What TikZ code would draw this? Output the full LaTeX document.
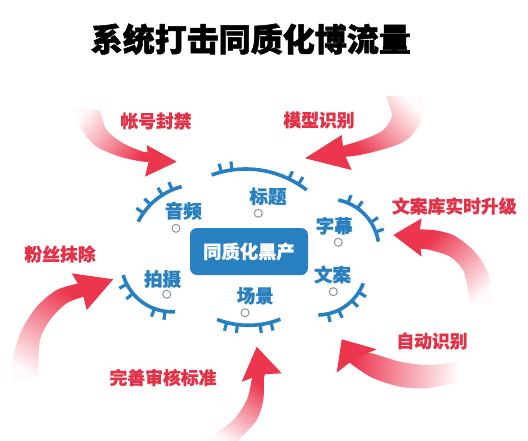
\documentclass[tikz,border=0pt]{standalone}
\usepackage{fontspec}
\newfontfamily\cjk{Noto Sans CJK SC}
\newfontfamily\cjkheavy{Noto Sans CJK SC}[BoldFeatures={FakeBold=1.6}]
\newfontfamily\cjkmed{Noto Sans CJK SC}[BoldFeatures={FakeBold=0.6}]
\definecolor{ared}{RGB}{236,54,78}
\definecolor{lred}{RGB}{226,50,72}
\definecolor{eblue}{RGB}{40,128,192}
\definecolor{cgray}{RGB}{130,140,150}
\tikzset{
  titletext/.style={font=\cjkheavy\bfseries\fontsize{32}{36}\selectfont, text=black, inner sep=0pt},
  redlbl/.style={font=\cjkmed\bfseries\fontsize{17.8}{20}\selectfont, text=lred, inner sep=0pt},
  bluelbl/.style={font=\cjkmed\bfseries\fontsize{18.5}{20}\selectfont, text=eblue, inner sep=0pt},
  eyeline/.style={draw=eblue, line width=3.6pt},
  lash/.style={draw=eblue, line width=3.2pt},
  dotmark/.style={circle, draw=cgray, fill=white, line width=0.9pt, minimum size=8pt, inner sep=0pt},
  corebox/.style={rounded corners=7pt, fill=eblue, minimum width=118pt, minimum height=47pt,
    font=\cjkmed\bfseries\fontsize{18.3}{20}\selectfont, text=white, inner sep=0pt},
  fadearrow/.style={top color=ared, bottom color=ared!3, middle color=ared!50, shading angle=#1}
}
\newcommand\eyearc[5]{%
  \draw[eyeline] plot[domain=#4:#5, samples=40, variable=\t] ({#1+#3*cos(\t)},{#2+#3*sin(\t)});
  \foreach \s in {10,21}{%
    \pgfmathsetmacro\ta{#4+\s/#3*57.2958}%
    \pgfmathsetmacro\tb{#5-\s/#3*57.2958}%
    \draw[lash] ({#1+(#3+1)*cos(\ta)},{#2+(#3+1)*sin(\ta)}) -- ({#1+(#3+8.5)*cos(\ta)},{#2+(#3+8.5)*sin(\ta)});
    \draw[lash] ({#1+(#3+1)*cos(\tb)},{#2+(#3+1)*sin(\tb)}) -- ({#1+(#3+8.5)*cos(\tb)},{#2+(#3+8.5)*sin(\tb)});
  }%
}
\begin{document}
\begin{tikzpicture}[x=1pt,y=-1pt]
\useasboundingbox[fill=white] (0,0) rectangle (528,440);

% title
\node[titletext] (title) at (250.8,39.2) {系统打击同质化博流量};

% arrows
% 1 top-left
\shade[fadearrow=-127.4] plot[smooth] coordinates {(71.7,106.7) (81.7,130) (96.7,146.7) (120,156.7) (143.3,161.7) (153,161)}
  -- plot[smooth] coordinates {(153,152) (143.3,151.7) (123.3,143.3) (106.7,130) (100,110)} -- cycle;
\fill[ared] (146.7,145) -- (176.7,161.7) -- (145,176.7) -- (148.8,160.9) -- cycle;
% 2 top-right
\shade[fadearrow=134.6] plot[smooth] coordinates {(386,96) (390,108) (391.7,117) (383.3,130) (366.7,138.3) (343,146)}
  -- plot[smooth] coordinates {(343,157) (360,155) (386.7,148.3) (406.7,140) (420,123.3) (423.3,103.3) (423,96)} -- cycle;
\fill[ared] (341.7,135) -- (305,158.3) -- (351.7,170) -- (343.7,152.9) -- cycle;
% 3 right
\shade[fadearrow=43.5] plot[smooth] coordinates {(418,229.5) (433,230) (453,235) (473,250) (486.7,270) (493,296.7) (495,303)}
  -- plot[smooth] coordinates {(470,303) (468,290) (463,270) (450,256.7) (430,250) (418,248.5)} -- cycle;
\fill[ared] (421.7,218.3) -- (393.3,235) -- (421.7,256.7) -- (418.7,237.2) -- cycle;
% 4 bottom-right
\shade[fadearrow=84.4] plot[smooth] coordinates {(360,354) (371.7,353.3) (400,361.7) (426.7,365) (446.7,363.3) (460,361)}
  -- plot[smooth] coordinates {(460,381) (453,383) (426.7,388.3) (400,386.7) (373.3,378.3) (356.7,368) (349,362)} -- cycle;
\fill[ared] (376.7,349.3) -- (341.7,339.3) -- (336.7,372.7) -- (355,358.5) -- cycle;
% 5 left
\shade[fadearrow=-31.6] plot[smooth] coordinates {(80,283) (56.7,290) (36.7,306.7) (21.7,330) (13.3,356.7) (11.7,382)}
  -- plot[smooth] coordinates {(40,376) (38.3,370) (40,340) (50,320) (66.7,303.3) (86,296)} -- cycle;
\fill[ared] (71.7,273.3) -- (113.3,279.3) -- (86.7,310) -- (82,290.7) -- cycle;
% 6 bottom
\shade[fadearrow=-33.7] plot[smooth] coordinates {(253,375) (251.7,380) (246.7,400) (233.3,420) (210,436.7) (203,441)}
  -- plot[smooth] coordinates {(238,441) (241.7,436.7) (256.7,420) (263.3,400) (264,378) (266,373)} -- cycle;
\fill[ared] (241.7,381.7) -- (256.7,346.7) -- (281.7,373.3) -- (261.2,374.5) -- cycle;

% red labels
\node[redlbl] (l1) at (156,121) {帐号封禁};
\node[redlbl] (l2) at (319,120) {模型识别};
\node[redlbl] (l3) at (454.3,206) {文案库实时升级};
\node[redlbl] (l4) at (60,254) {粉丝抹除};
\node[redlbl] (l5) at (163,377.5) {完善审核标准};
\node[redlbl] (l6) at (432,341) {自动识别};

% eye arcs
\eyearc{245.6}{268.1}{99.1}{-110}{-52}
\eyearc{198.9}{252.4}{68}{-153.1}{-104.7}
\eyearc{328.2}{249.8}{50.8}{-78.5}{-9.2}
\eyearc{317.2}{265.7}{49.3}{20.9}{88.7}
\eyearc{172.1}{260.9}{50.9}{86.7}{163.9}
\eyearc{248.4}{238.8}{86.5}{68.3}{111.2}

% center box
\node[corebox] (core) at (249,251.5) {同质化黑产};

% blue labels and dots
\node[bluelbl] (b1) at (268,196.3) {标题};
\node[dotmark] (d1) at (258.3,213.3) {};
\node[bluelbl] (b2) at (183.3,210.8) {音频};
\node[dotmark] (d2) at (176,228.3) {};
\node[bluelbl] (b3) at (334.2,225.8) {字幕};
\node[dotmark] (d3) at (338.3,242.3) {};
\node[bluelbl] (b4) at (332.5,274.5) {文案};
\node[dotmark] (d4) at (333.3,291.7) {};
\node[bluelbl] (b5) at (162.5,279) {拍摄};
\node[dotmark] (d5) at (166.7,294.3) {};
\node[bluelbl] (b6) at (255.3,295.8) {场景};
\node[dotmark] (d6) at (245,312.7) {};
\end{tikzpicture}
\end{document}
